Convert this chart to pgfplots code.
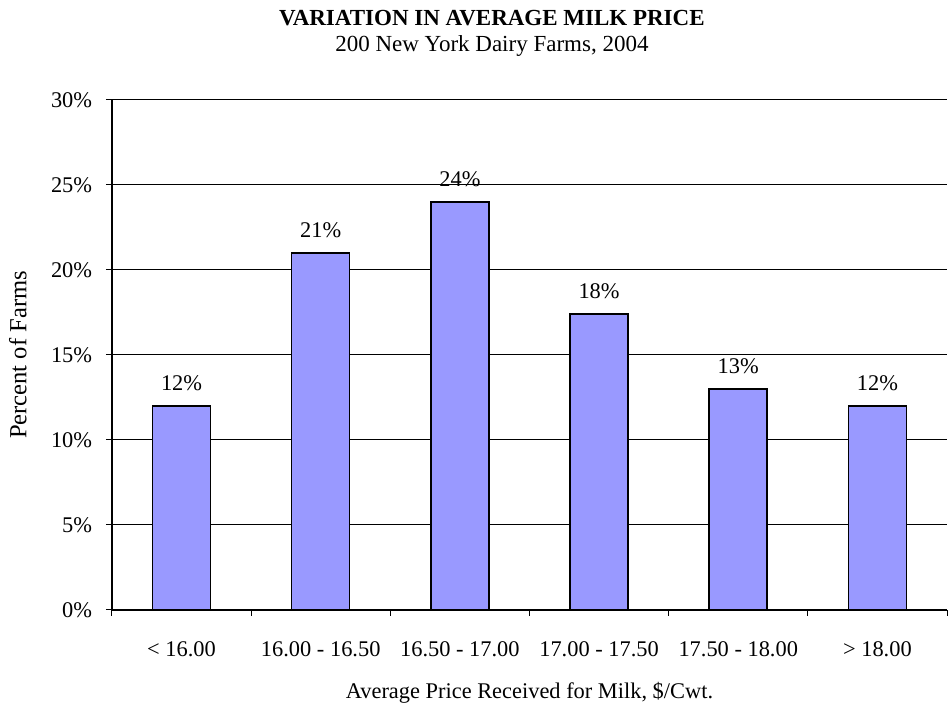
\documentclass[border=0pt]{standalone}
\usepackage{pgfplots}
\pgfplotsset{compat=1.18}
\usepackage{fontspec}
\setmainfont{Liberation Serif}
\definecolor{barblue}{HTML}{9999FF}
\begin{document}
\fontsize{11.2}{13}\selectfont
\begin{tikzpicture}
\begin{axis}[
  scale only axis, width=417.5pt, height=255pt,
  xmin=-0.5, xmax=5.5, ymin=0, ymax=30,
  axis x line*=bottom, axis y line*=left,
  axis line style={line width=0.6pt},
  clip=false,
  tick align=outside, major tick length=3pt,
  tick style={black, line width=0.5pt},
  ytick={0,5,10,15,20,25,30},
  yticklabels={0\%,5\%,10\%,15\%,20\%,25\%,30\%},
  ymajorgrids, grid style={black, line width=0.5pt},
  xtick={-0.5,0.5,1.5,2.5,3.5,4.5,5.5},
  x tick label as interval,
  xticklabels={{< 16.00},{16.00 - 16.50},{16.50 - 17.00},{17.00 - 17.50},{17.50 - 18.00},{> 18.00}},
  xticklabel style={yshift=-9pt},
  yticklabel style={xshift=-3pt},
  ticklabel style={font=\fontsize{11.2}{13}\selectfont},
  xlabel={Average Price Received for Milk, \$/Cwt.},
  xlabel style={yshift=-5pt, font=\fontsize{11.2}{13}\selectfont},
  ylabel={Percent of Farms},
  ylabel style={yshift=4.5pt, font=\fontsize{12.3}{14}\selectfont},
  ybar, bar width=29pt,
  point meta=explicit symbolic,
  nodes near coords,
  every node near coord/.append style={black, yshift=3.5pt, font=\fontsize{11.2}{13}\selectfont},
]
\addplot[fill=barblue, draw=black, line width=0.75pt] coordinates {
  (0,12) [12\%]
  (1,21) [21\%]
  (2,24) [24\%]
  (3,17.4) [18\%]
  (4,13) [13\%]
  (5,12) [12\%]
};
\node[font=\bfseries\fontsize{11.5}{13}\selectfont] at (rel axis cs:0.455,1.161) {VARIATION IN AVERAGE MILK PRICE};
\node[font=\fontsize{11.5}{13}\selectfont] at (rel axis cs:0.455,1.106) {200 New York Dairy Farms, 2004};
\path[draw=none] (rel axis cs:-0.1341,-0.1843) rectangle (rel axis cs:1.0036,1.196);
\end{axis}
\end{tikzpicture}
\end{document}
